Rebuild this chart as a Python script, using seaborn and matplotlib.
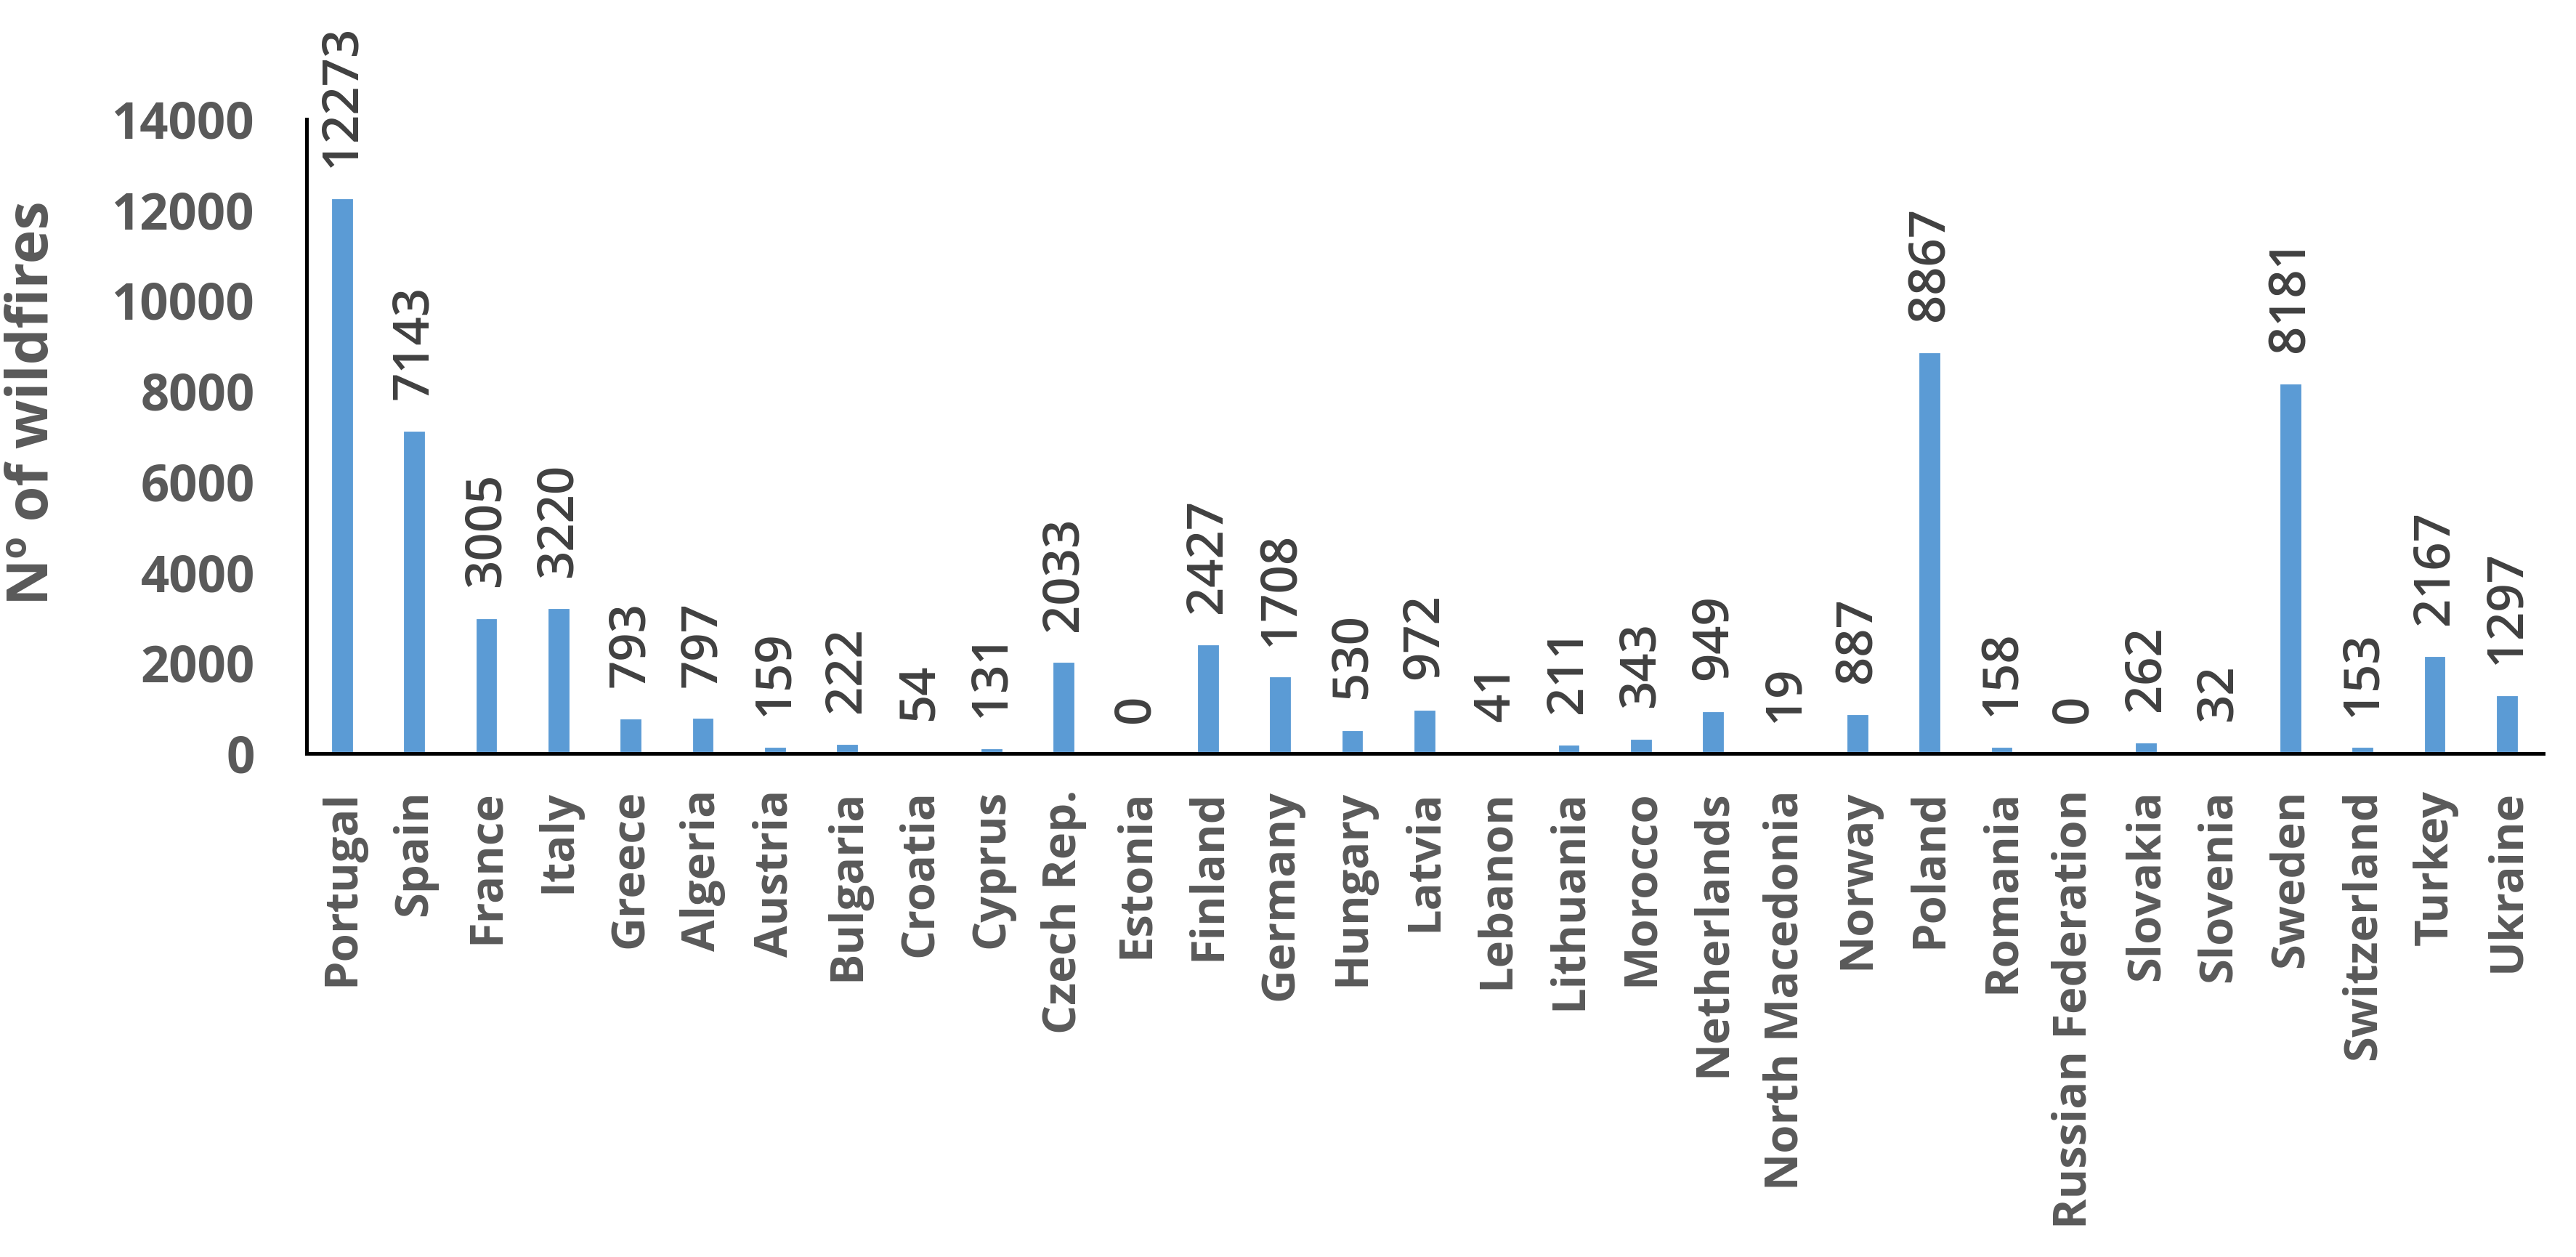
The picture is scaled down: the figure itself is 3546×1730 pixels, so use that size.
import matplotlib
matplotlib.use('Agg')
import matplotlib.pyplot as plt
import seaborn as sns
from pandas import DataFrame

# Number of wildfires per country
countries = ['Portugal', 'Spain', 'France', 'Italy', 'Greece', 'Algeria', 'Austria', 'Bulgaria',
             'Croatia', 'Cyprus', 'Czech Rep.', 'Estonia', 'Finland', 'Germany', 'Hungary', 'Latvia',
             'Lebanon', 'Lithuania', 'Morocco', 'Netherlands', 'North Macedonia', 'Norway', 'Poland',
             'Romania', 'Russian Federation', 'Slovakia', 'Slovenia', 'Sweden', 'Switzerland',
             'Turkey', 'Ukraine']
wildfires = [12273, 7143, 3005, 3220, 793, 797, 159, 222,
             54, 131, 2033, 0, 2427, 1708, 530, 972,
             41, 211, 343, 949, 19, 887, 8867,
             158, 0, 262, 32, 8181, 153,
             2167, 1297]
y_ticks = [0, 2000, 4000, 6000, 8000, 10000, 12000, 14000]

BAR_COLOR = '#5B9BD5'
LABEL_COLOR = '#595959'
VALUE_COLOR = '#404040'

sns.set_style('white')
plt.rcParams['font.family'] = ['Open Sans', 'DejaVu Sans']

df = DataFrame({'country': countries, 'wildfires': wildfires})

fig = plt.figure(figsize=(11.82, 5.7667), dpi=300)
ax = fig.add_axes([0.1189, 0.4006, 0.8684, 0.5046])

sns.barplot(data=df, x='country', y='wildfires', color=BAR_COLOR, saturation=1,
            width=0.33, ax=ax)

# Value labels on top of the bars
for i, v in enumerate(wildfires):
    ax.annotate(str(v), xy=(i, v), xytext=(0, 10), textcoords='offset points',
                rotation=90, ha='center', va='bottom', fontsize=16.5,
                fontweight='semibold', color=VALUE_COLOR)

ax.set_ylim(0, 14000)
ax.set_xlim(-0.5, len(countries) - 0.5)
ax.set_yticks(y_ticks)
ax.set_yticklabels([str(t) for t in y_ticks], fontsize=16.5, fontweight='bold', color=LABEL_COLOR)
ax.set_xticks(range(len(countries)))
ax.set_xticklabels(countries, rotation=90, fontsize=15.2, fontweight='bold', color=LABEL_COLOR)
ax.tick_params(axis='y', length=0, pad=17)
ax.tick_params(axis='x', length=0, pad=12)

ax.set_xlabel('')
ax.set_ylabel('Nº of wildfires', fontsize=19, fontweight='bold', color=LABEL_COLOR)
ax.yaxis.set_label_coords(-0.1094, 0.553)

# Only left and bottom axis lines
for side in ['top', 'right']:
    ax.spines[side].set_visible(False)
for side in ['left', 'bottom']:
    ax.spines[side].set_color('black')
    ax.spines[side].set_linewidth(1.2)
ax.grid(False)

fig.savefig('out.png', dpi=300)
